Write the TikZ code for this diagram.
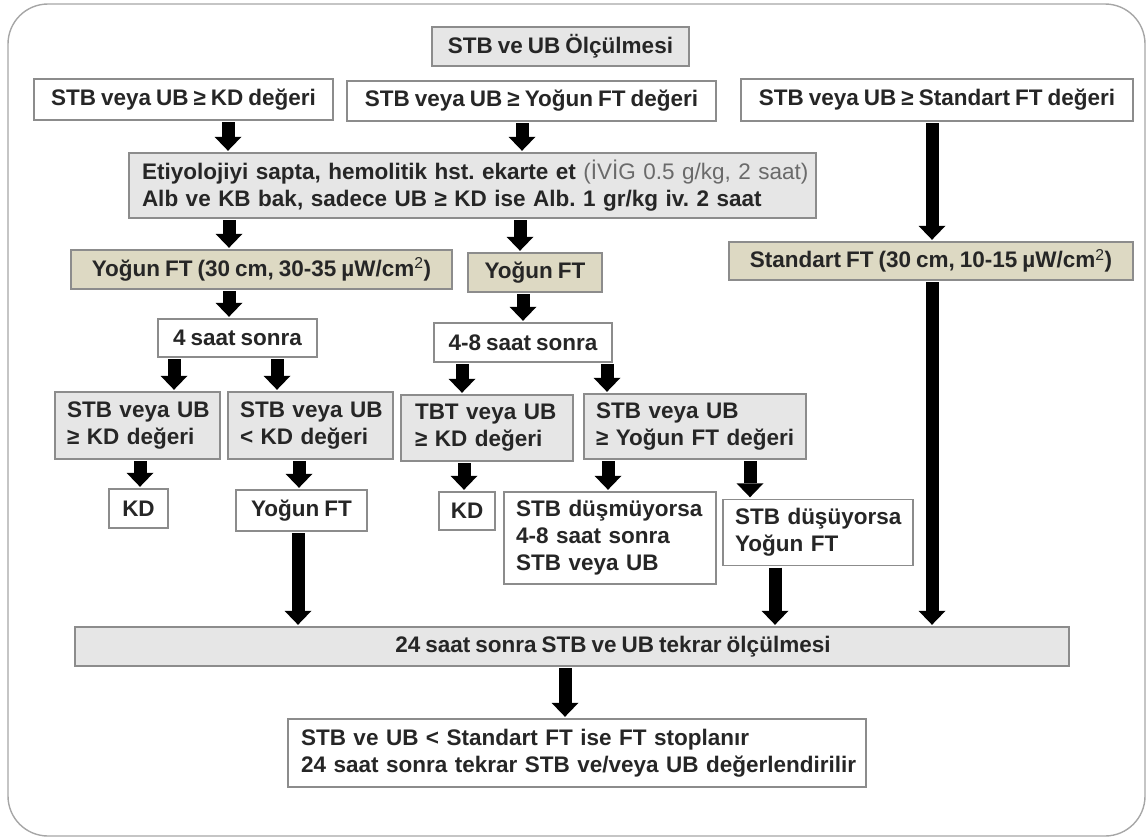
\documentclass[tikz,border=0pt]{standalone}
\usepackage{fontspec}
\setmainfont{Liberation Sans}[WordSpace=0.8]
\usetikzlibrary{arrows.meta}
\definecolor{boxgray}{HTML}{E6E6E6}
\definecolor{beige}{HTML}{DDD9C3}
\definecolor{edgegray}{HTML}{8C8C8C}
\definecolor{framegray}{HTML}{A6A6A6}
\definecolor{txt}{HTML}{262626}
\definecolor{softtxt}{HTML}{6A6A6A}
\frenchspacing
\hyphenpenalty=10000
\newcommand{\oneline}[1]{\mbox{#1}}
\begin{document}
\begin{tikzpicture}[x=1pt,y=-1pt,
  base/.style={draw=edgegray, line width=1.4pt, font=\fontsize{22.5}{27}\selectfont\bfseries, text=txt, inner sep=0pt},
  wbox/.style={base, fill=white},
  gbox/.style={base, fill=boxgray},
  bbox/.style={base, fill=beige},
  lalign/.style={align=left, inner xsep=12pt, text width=#1},
  blk/.style={line width=13pt, -{Triangle[width=27pt,length=14pt,line width=0pt]}, shorten <=1.5pt, shorten >=1.5pt}]
\useasboundingbox (0,0) rectangle (1147,838);
\draw[framegray, line width=1.4pt, rounded corners=40pt] (8,4) rectangle (1145,836);

\node[gbox, minimum width=257, minimum height=39] (top) at (560.5,46.5) {STB ve UB Ölçülmesi};
\node[wbox, minimum width=299, minimum height=41] (b1) at (183.5,99.5) {STB veya UB ≥ KD değeri};
\node[wbox, minimum width=369, minimum height=40] (b2) at (531.5,101) {STB veya UB ≥ Yoğun FT değeri};
\node[wbox, minimum width=392, minimum height=42] (b3) at (937,100) {STB veya UB ≥ Standart FT değeri};
\node[gbox, lalign=661, inner xsep=13pt, minimum height=65] (etio) at (472.5,185.5)
  {\oneline{Etiyolojiyi sapta, hemolitik hst. ekarte et {\mdseries\color{softtxt}(İVİG 0.5 g/kg, 2 saat)}}\\
   \oneline{Alb ve KB bak, sadece UB ≥ KD ise Alb. 1 gr/kg iv. 2 saat}};
\node[bbox, minimum width=381, minimum height=39] (yft1) at (261.5,269.5) {Yoğun FT (30 cm, 30-35 µW/cm{\mdseries\textsuperscript{2}})};
\node[bbox, minimum width=134, minimum height=39] (yft2) at (535,272.5) {Yoğun FT};
\node[bbox, minimum width=404, minimum height=38] (sft) at (931,261) {Standart FT (30 cm, 10-15 µW/cm{\mdseries\textsuperscript{2}})};
\node[wbox, minimum width=159, minimum height=38] (s4) at (237.5,338) {4 saat sonra};
\node[wbox, minimum width=178, minimum height=39] (s48) at (523,342.5) {4-8 saat sonra};
\node[gbox, lalign=141, minimum height=67] (l1) at (137.5,425.5) {\oneline{STB veya UB}\\\oneline{≥ KD değeri}};
\node[gbox, lalign=141, minimum height=67] (l2) at (310.5,425.5) {\oneline{STB veya UB}\\\oneline{< KD değeri}};
\node[gbox, lalign=144, inner xsep=14pt, minimum height=66] (m1) at (487,428) {\oneline{TBT veya UB}\\\oneline{≥ KD değeri}};
\node[gbox, lalign=198, minimum height=65] (m2) at (695,426.5) {\oneline{STB veya UB}\\\oneline{≥ Yoğun FT değeri}};
\node[wbox, minimum width=59, minimum height=39] (kd1) at (138.5,508.5) {KD};
\node[wbox, minimum width=131, minimum height=41] (yft3) at (301.5,510.5) {Yoğun FT};
\node[wbox, minimum width=56, minimum height=38] (kd2) at (467,511) {KD};
\node[wbox, lalign=188, minimum height=92] (dm) at (610,538) {\oneline{STB düşmüyorsa}\\\oneline{4-8 saat sonra}\\\oneline{STB veya UB}};
\node[wbox, lalign=166, minimum height=66] (dy) at (818,532.5) {\oneline{STB düşüyorsa}\\\oneline{Yoğun FT}};
\node[gbox, minimum width=994, minimum height=39] (bar) at (572,646.5) {\hspace*{82pt}24 saat sonra STB ve UB tekrar ölçülmesi};
\node[wbox, lalign=552, inner xsep=13pt, minimum height=68] (final) at (577,753)
  {\oneline{STB ve UB < Standart FT ise FT stoplanır}\\\oneline{24 saat sonra tekrar STB ve/veya UB değerlendirilir}};

\draw[blk] (228,0 |- b1.south) -- (228,0 |- etio.north);
\draw[blk] (522,0 |- b2.south) -- (522,0 |- etio.north);
\draw[blk] (229,0 |- etio.south) -- (229,0 |- yft1.north);
\draw[blk] (520,0 |- etio.south) -- (520,0 |- yft2.north);
\draw[blk] (229,0 |- yft1.south) -- (229,0 |- s4.north);
\draw[blk] (523,0 |- yft2.south) -- (523,0 |- s48.north);
\draw[blk] (174,0 |- s4.south) -- (174,0 |- l1.north);
\draw[blk] (277,0 |- s4.south) -- (277,0 |- l2.north);
\draw[blk] (462,0 |- s48.south) -- (462,0 |- m1.north);
\draw[blk] (607,0 |- s48.south) -- (607,0 |- m2.north);
\draw[blk] (140,0 |- l1.south) -- (140,0 |- kd1.north);
\draw[blk] (299,0 |- l2.south) -- (299,0 |- yft3.north);
\draw[blk] (464,0 |- m1.south) -- (464,0 |- kd2.north);
\draw[blk] (608,0 |- m2.south) -- (608,0 |- dm.north);
\draw[blk] (750,0 |- m2.south) -- (750,0 |- dy.north);
\draw[blk] (298,0 |- yft3.south) -- (298,0 |- bar.north);
\draw[blk] (775,0 |- dy.south) -- (775,0 |- bar.north);
\draw[blk] (932,0 |- b3.south) -- (932,0 |- sft.north);
\draw[blk] (932,0 |- sft.south) -- (932,0 |- bar.north);
\draw[blk] (565,0 |- bar.south) -- (565,0 |- final.north);
\end{tikzpicture}
\end{document}
